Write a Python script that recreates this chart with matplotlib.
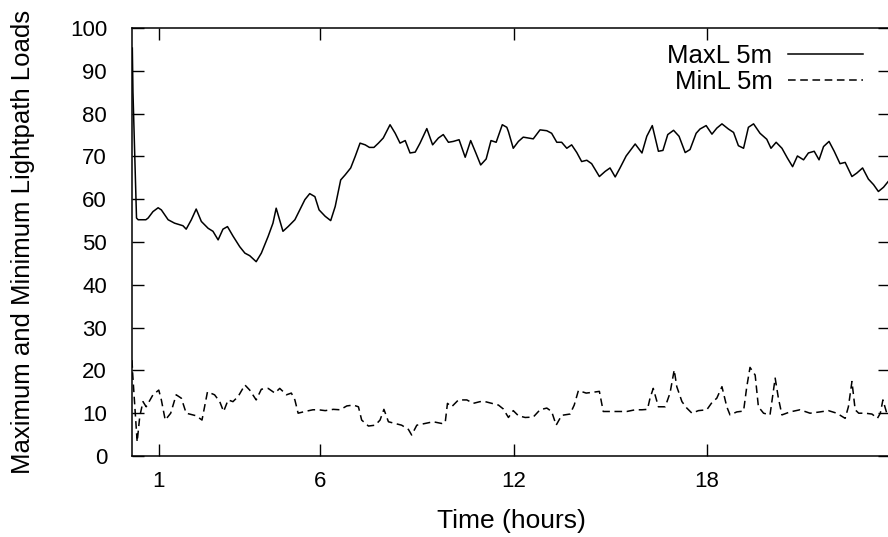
import matplotlib
matplotlib.use("Agg")
import matplotlib.pyplot as plt

plt.rcParams['font.family'] = ['Liberation Sans', 'DejaVu Sans']

# maximum lightpath load, 5 minute samples (hours, load)
max_hours = [0.18, 0.20, 0.31, 0.36, 0.60, 0.67, 0.82, 0.98, 1.08, 1.29, 1.49, 1.75,
             1.85, 2.01, 2.16, 2.32, 2.53, 2.68, 2.84, 2.99, 3.13, 3.30, 3.51, 3.67,
             3.82, 4.02, 4.18, 4.39, 4.54, 4.64, 4.85, 5.01, 5.22, 5.37, 5.53, 5.68,
             5.84, 5.97, 6.16, 6.33, 6.47, 6.64, 6.78, 6.95, 7.09, 7.24, 7.40, 7.53,
             7.67, 7.81, 7.96, 8.17, 8.33, 8.48, 8.64, 8.79, 8.95, 9.10, 9.31, 9.49,
             9.67, 9.82, 9.98, 10.13, 10.31, 10.50, 10.67, 10.83, 10.98, 11.15, 11.30,
             11.46, 11.65, 11.79, 11.84, 11.99, 12.15, 12.30, 12.46, 12.61, 12.82,
             13.03, 13.18, 13.34, 13.49, 13.65, 13.80, 13.96, 14.11, 14.27, 14.42,
             14.66, 14.84, 14.99, 15.15, 15.30, 15.49, 15.63, 15.77, 15.98, 16.13,
             16.30, 16.49, 16.63, 16.78, 16.96, 17.13, 17.32, 17.47, 17.66, 17.78,
             17.97, 18.15, 18.30, 18.46, 18.66, 18.82, 18.97, 19.13, 19.28, 19.44,
             19.64, 19.85, 19.98, 20.14, 20.32, 20.49, 20.65, 20.80, 20.99, 21.14,
             21.32, 21.47, 21.61, 21.78, 21.94, 22.12, 22.28, 22.49, 22.64, 22.82,
             23.00, 23.16, 23.31, 23.47, 23.61]
max_load = [95.3, 85.0, 55.6, 55.2, 55.2, 55.6, 57.1, 58.0, 57.5, 55.2, 54.4, 53.8,
            53.0, 55.2, 57.7, 54.8, 53.2, 52.5, 50.5, 53.0, 53.6, 51.4, 48.9, 47.4,
            46.8, 45.4, 47.4, 51.3, 54.4, 57.9, 52.5, 53.6, 55.2, 57.5, 59.9, 61.3,
            60.6, 57.5, 56.0, 55.0, 58.3, 64.5, 65.7, 67.3, 70.0, 73.1, 72.7, 72.1,
            72.1, 73.1, 74.3, 77.4, 75.4, 73.1, 73.7, 70.8, 71.0, 73.1, 76.5, 72.7,
            74.3, 75.1, 73.3, 73.5, 73.9, 69.8, 73.7, 70.8, 68.0, 69.4, 73.7,
            73.3, 77.4, 76.8, 75.8, 71.9, 73.5, 74.5, 74.3, 74.1, 76.2,
            76.0, 75.4, 73.3, 73.3, 71.9, 72.7, 70.9, 68.8, 69.1, 68.3,
            65.3, 66.5, 67.3, 65.2, 67.3, 70.1, 71.5, 72.9, 70.8, 74.7,
            77.2, 71.2, 71.4, 75.1, 76.1, 74.7, 70.9, 71.6, 75.4, 76.4,
            77.2, 75.2, 76.6, 77.6, 76.4, 75.6, 72.5, 71.9, 76.8, 77.6,
            75.4, 74.0, 71.9, 73.3, 71.9, 69.6, 67.6, 70.1, 69.2, 70.8,
            71.2, 69.2, 72.3, 73.5, 71.2, 68.3, 68.6, 65.3, 66.1, 67.3,
            64.7, 63.4, 61.8, 62.8, 64.1]

# minimum lightpath load
min_hours = [0.17, 0.19, 0.33, 0.41, 0.51, 0.61, 0.82, 1.00, 1.08, 1.20, 1.37, 1.54,
             1.70, 1.85, 2.06, 2.16, 2.34, 2.51, 2.73, 2.89, 3.01, 3.15, 3.30, 3.46,
             3.67, 3.82, 4.02, 4.18, 4.39, 4.60, 4.75, 4.96, 5.11, 5.22, 5.32, 5.53,
             5.78, 5.95, 6.16, 6.41, 6.62, 6.83, 7.03, 7.19, 7.29, 7.50, 7.71, 7.86,
             7.98, 8.12, 8.33, 8.53, 8.74, 8.84, 9.00, 9.26, 9.51, 9.77, 9.88, 9.95,
             10.08, 10.29, 10.55, 10.75, 10.96, 11.12, 11.32, 11.53, 11.68, 11.84,
             11.99, 12.15, 12.36, 12.61, 12.82, 13.03, 13.18, 13.32, 13.49, 13.75,
             13.88, 14.01, 14.25, 14.47, 14.66, 14.78, 14.99, 15.25, 15.51, 15.77,
             15.98, 16.15, 16.23, 16.33, 16.49, 16.70, 16.85, 16.98, 17.06, 17.22,
             17.37, 17.53, 17.73, 17.99, 18.15, 18.30, 18.46, 18.61, 18.71, 18.92,
             19.13, 19.23, 19.33, 19.49, 19.59, 19.75, 19.95, 20.11, 20.21, 20.32,
             20.57, 20.88, 21.19, 21.50, 21.76, 22.02, 22.28, 22.38, 22.49, 22.59,
             22.70, 22.90, 23.11, 23.28, 23.37, 23.45, 23.57]
min_load = [22.4, 19.3, 3.3, 9.2, 12.7, 11.5, 14.3, 15.4, 13.1, 8.4, 10.0, 14.3,
            13.5, 10.0, 9.6, 9.4, 8.4, 15.0, 14.3, 12.7, 10.4, 13.1, 12.7, 13.9,
            16.6, 15.4, 13.1, 15.6, 15.8, 14.7, 15.8, 14.3, 14.7, 13.1, 10.0, 10.4,
            10.8, 10.8, 10.6, 10.9, 10.8, 11.7, 11.9, 11.5, 8.4, 7.0, 7.2, 8.4,
            10.9, 8.0, 7.6, 7.2, 6.2, 4.9, 7.2, 7.6, 8.0, 7.6, 7.8, 12.3,
            11.5, 13.1, 13.1, 12.3, 12.7, 12.7, 12.3, 11.9, 11.0, 9.0,
            10.6, 9.4, 9.0, 9.1, 10.8, 11.2, 10.4, 7.2, 9.5, 9.8,
            11.9, 15.3, 14.7, 14.9, 15.1, 10.4, 10.4, 10.4, 10.4, 10.8,
            10.8, 10.9, 13.5, 15.8, 11.5, 11.5, 14.7, 20.1, 16.2, 12.7,
            11.2, 10.0, 10.6, 10.8, 12.5, 13.5, 16.2, 11.5, 9.6, 10.3,
            10.5, 16.2, 20.7, 18.9, 11.5, 10.0, 9.6, 18.2, 13.5, 9.6,
            10.3, 10.8, 10.0, 10.3, 10.6, 10.0, 8.8, 11.5, 17.4, 10.8,
            10.0, 10.0, 9.8, 8.8, 10.0, 13.1, 10.0]

x_ticks = [1, 6, 12, 18]
y_ticks = list(range(0, 101, 10))

fig = plt.figure(figsize=(8.88, 5.37), dpi=100)
ax = fig.add_axes([132 / 888, 1 - 456 / 537, 758 / 888, 428 / 537])

ax.plot(max_hours, max_load, color='black', lw=1.1, label='MaxL 5m')
ax.plot(min_hours, min_load, color='black', lw=1.1, linestyle=(0, (5, 3)),
        label='MinL 5m')

ax.set_xlim(0.17, 23.67)
ax.set_ylim(0, 100)
ax.set_xticks(x_ticks)
ax.set_yticks(y_ticks)
ax.tick_params(direction='in', length=8.6, width=1.0, top=True, right=True,
               labelsize=16, colors='black')
ax.tick_params(axis='y', pad=18)
ax.tick_params(axis='x', pad=11)
for s in ax.spines.values():
    s.set_linewidth(1.1)

ax.set_xlabel('Time (hours)', fontsize=19, labelpad=12)
ax.set_ylabel('Maximum and Minimum Lightpath Loads', fontsize=18.5, labelpad=25)

ax.legend(loc='upper right', bbox_to_anchor=(863 / 888, 1 - 44 / 537),
          bbox_transform=fig.transFigure, frameon=False, markerfirst=False,
          fontsize=18.5, handlelength=2.9, handletextpad=0.62, labelspacing=0.08,
          borderaxespad=0, borderpad=0)

fig.savefig('out.png', dpi=100)
